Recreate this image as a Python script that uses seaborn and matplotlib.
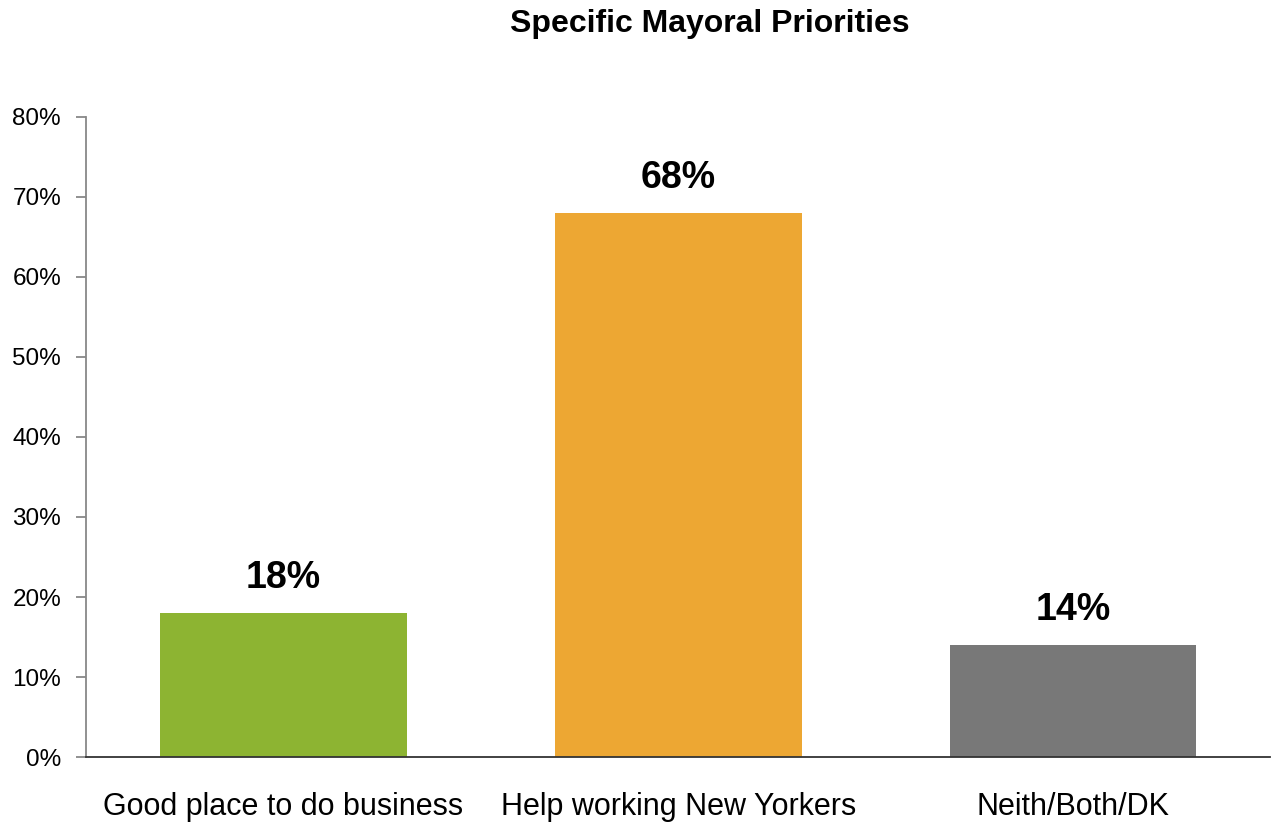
import matplotlib
matplotlib.use("Agg")
import matplotlib.pyplot as plt
import seaborn as sns
import pandas as pd

categories = ["Good place to do business", "Help working New Yorkers", "Neith/Both/DK"]
values = [18, 68, 14]
colors = ["#8DB432", "#EDA733", "#787878"]
yticks = [0, 10, 20, 30, 40, 50, 60, 70, 80]
title = "Specific Mayoral Priorities"

sns.set_style("white")
plt.rcParams["font.family"] = ["Liberation Sans", "DejaVu Sans"]
plt.rcParams["text.color"] = "black"
plt.rcParams["xtick.color"] = "black"
plt.rcParams["ytick.color"] = "black"

df = pd.DataFrame({"cat": categories, "val": values})
fig = plt.figure(figsize=(12.76, 8.23), dpi=100)
ax = fig.add_axes([86/1276, 1-757/823, (1270.5-86)/1276, (757-117)/823])

sns.barplot(data=df, x="cat", y="val", hue="cat", palette=colors, order=categories,
            hue_order=categories, width=0.625, legend=False, ax=ax, saturation=1,
            edgecolor="none", linewidth=0)

ax.set_xlim(-0.5, 2.5)
ax.set_ylim(0, 80)
ax.set_yticks(yticks)
ax.set_yticklabels([f"{t}%" for t in yticks], fontsize=17.5)
ax.set_xlabel("")
ax.set_ylabel("")
ax.tick_params(axis="x", length=0, pad=25, labelsize=22, labelcolor="black")
ax.tick_params(axis="y", length=7, width=1.3, color="#888888", pad=11, left=True,
               labelcolor="black")

for s in ["top", "right"]:
    ax.spines[s].set_visible(False)
ax.spines["left"].set_color("#888888")
ax.spines["left"].set_linewidth(1.3)
ax.spines["bottom"].set_color("#333333")
ax.spines["bottom"].set_linewidth(1.3)

for cont in ax.containers:
    ax.bar_label(cont, labels=[f"{v:.0f}%" for v in cont.datavalues],
                 padding=12, fontsize=27, fontweight="bold", color="black")

fig.text(709.5/1276, 1-24/823, title, ha="center", va="center",
         fontsize=23, fontweight="bold", color="black")

fig.savefig("out.png", dpi=100)
